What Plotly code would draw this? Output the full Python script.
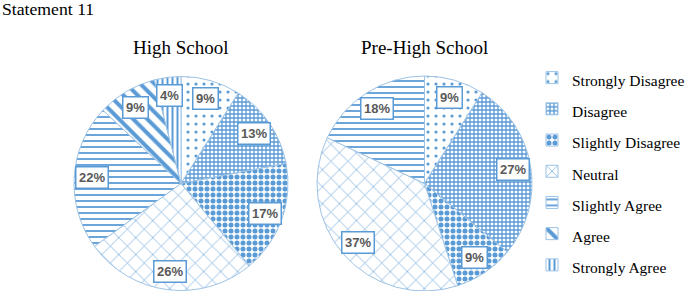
import math
import plotly.graph_objects as go

categories = ["Strongly Disagree", "Disagree", "Slightly Disagree", "Neutral",
              "Slightly Agree", "Agree", "Strongly Agree"]
high_school = [9, 13, 17, 26, 22, 9, 4]
pre_high_school = [9, 27, 9, 37, 18, 0, 0]
titles = ["High School", "Pre-High School"]
chart_title = "Statement 11"

W, H = 685, 291
BLUE = "#5B9BD5"
shapes = [".", "+", ".", "x", "-", "\\", "|"]
sizes = [8, 4, 6, 12, 6, 10, 5]
solid = [0.12, 0.55, 0.55, 0.1, 0.3, 0.4, 0.4]

pies = [
    dict(vals=high_school, cx=181, cy=183.5, r=107),
    dict(vals=pre_high_school, cx=424.5, cy=183.5, r=107.5),
]

fig = go.Figure()
annotations = []
for i, p in enumerate(pies):
    cx, cy, r = p["cx"], p["cy"], p["r"]
    yb = H - cy
    fig.add_trace(go.Pie(
        labels=[f'<span style="font-size:15.5px">{c}</span>' for c in categories],
        values=p["vals"],
        sort=False, direction="clockwise", rotation=0,
        domain=dict(x=[(cx - r) / W, (cx + r) / W], y=[(yb - r) / H, (yb + r) / H]),
        textinfo="none", hoverinfo="label+percent",
        marker=dict(
            colors=["white"] * 7,
            line=dict(color="#9DC3E6", width=1),
            pattern=dict(shape=shapes, fgcolor=[BLUE] * 7, bgcolor=["white"] * 7,
                         size=sizes, solidity=solid, fillmode="replace"),
        ),
        showlegend=(i == 0),
    ))
    total = sum(p["vals"])
    cum = 0
    for v in p["vals"]:
        if v > 0:
            ang = 2 * math.pi * (cum + v / 2) / total
            rr = 0.83 * r
            x = cx + rr * math.sin(ang)
            y = cy - rr * math.cos(ang)
            annotations.append(dict(
                x=x / W, y=1 - y / H, xref="paper", yref="paper",
                text=f"<b>{v}%</b>", showarrow=False,
                font=dict(family="Liberation Sans, Arial", size=13, color="#595959"),
                bgcolor="white", bordercolor=BLUE, borderwidth=1.5, borderpad=2.5,
                xanchor="center", yanchor="middle",
            ))
        cum += v
    annotations.append(dict(
        x=cx / W, y=1 - 48 / H, xref="paper", yref="paper", text=titles[i],
        showarrow=False, font=dict(family="Liberation Serif", size=19, color="black"),
        xanchor="center", yanchor="middle",
    ))

annotations.append(dict(
    x=0, y=1 - 9 / H, xref="paper", yref="paper", text=chart_title,
    showarrow=False, font=dict(family="Liberation Serif", size=17.7, color="black"),
    xanchor="left", yanchor="middle",
))

fig.update_layout(
    width=W, height=H,
    margin=dict(l=0, r=0, t=0, b=0, autoexpand=False),
    paper_bgcolor="white", plot_bgcolor="white",
    annotations=annotations,
    legend=dict(x=532 / W, y=1 - 57 / H, xanchor="left", yanchor="top",
                font=dict(family="Liberation Serif", size=21.7, color="black"),
                bgcolor="rgba(0,0,0,0)", itemwidth=30),
)

fig.write_html("out.html", post_script="document.body.style.margin='0';",
               config={"displayModeBar": False})
